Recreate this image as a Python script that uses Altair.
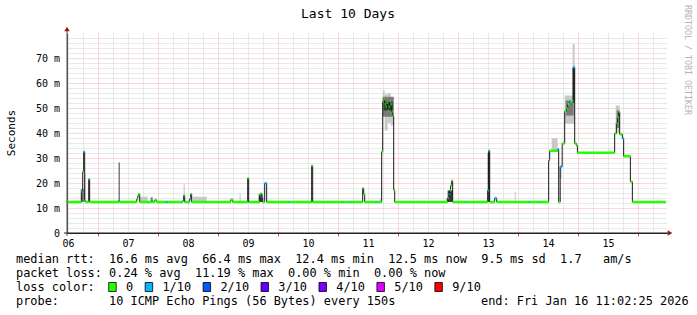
import altair as alt
import pandas as pd

NB = "\u00a0"
FONT = "DejaVu Sans Mono"

# ---------------- data ----------------
# time axis: day of month (January 2026, local time), values in milliseconds
med_day = [6.478, 6.728, 6.745, 6.761, 6.778, 6.795, 6.845, 6.861,
           7.345, 7.361, 7.645, 7.661, 7.678, 7.695, 7.895, 7.911, 7.945, 7.978,
           8.128, 8.161, 8.411, 8.428, 8.445, 8.528, 8.545, 8.561,
           9.211, 9.245, 9.495, 9.511, 9.528, 9.695, 9.711, 9.728, 9.745, 9.778, 9.811,
           10.178, 10.195, 10.561, 10.578,
           11.078, 11.095, 11.195, 11.211, 11.411, 11.428, 11.445, 11.628, 11.645,
           11.728, 11.745, 11.761, 11.778, 11.795, 11.811, 11.828, 11.845, 11.861, 11.878, 11.895, 11.911, 11.928, 11.945,
           12.828, 12.845, 12.861, 12.878, 12.895, 12.911,
           13.128, 13.145, 13.495, 13.511, 13.528, 13.611, 13.645,
           14.178, 14.195, 14.345, 14.361, 14.511, 14.528, 14.661, 14.678, 14.703, 14.736, 14.778, 14.806, 14.828, 14.861, 14.886, 14.92, 14.945, 14.973, 14.99,
           15.611, 15.639, 15.656, 15.678, 15.695, 15.74, 15.761, 15.873, 15.906]
med_ms = [12.4, 16.5, 24.5, 32.5, 13.0, 12.4, 21.5, 12.4,
          12.9, 12.4, 13.5, 14.8, 15.6, 12.4, 12.9, 12.4, 13.2, 12.4,
          12.4, 12.4, 12.9, 15.0, 12.4, 13.6, 15.6, 12.4,
          13.3, 12.4, 21.9, 12.4, 12.4, 15.2, 15.8, 14.5, 12.4, 19.9, 12.4,
          12.4, 12.4, 26.9, 12.4,
          12.4, 12.4, 12.4, 12.4, 17.9, 15.5, 12.4, 12.4, 12.4,
          32.5, 52.7, 53.5, 51.5, 50.5, 52.0, 49.1, 50.5, 52.5, 51.5, 48.5, 47.0, 17.2, 12.4,
          14.0, 15.4, 17.0, 19.0, 20.9, 12.4,
          12.4, 12.4, 17.0, 32.9, 12.4, 13.9, 12.4,
          12.4, 12.4, 12.4, 12.4, 29.0, 32.9, 33.5, 12.4, 26.5, 35.8, 48.6, 49.9, 51.5, 52.4, 52.8, 66.3, 35.8, 35.0, 32.1,
          39.8, 44.0, 46.4, 48.4, 39.5, 37.8, 30.7, 20.5, 12.4]
med_loss = ["0", "1/10", "0", "1/10", "0", "0", "1/10", "0",
            "1/10", "0", "0", "0", "0", "0", "1/10", "0", "0", "0",
            "1/10", "0", "1/10", "0", "0", "1/10", "0", "0",
            "0", "0", "0", "1/10", "0", "0", "0", "1/10", "0", "1/10", "0",
            "1/10", "0", "0", "0",
            "1/10", "0", "1/10", "0", "0", "0", "0", "1/10", "0",
            "0", "0", "0", "0", "0", "0", "0", "0", "0", "0", "0", "0", "0", "0",
            "0", "1/10", "0", "0", "0", "0",
            "1/10", "0", "1/10", "1/10", "0", "1/10", "0",
            "1/10", "0", "1/10", "0", "0", "0", "1/10", "0", "1/10", "0", "0", "0", "0", "1/10", "0", "1/10", "0", "0", "0",
            "0", "0", "0", "0", "0", "1/10", "0", "0", "0"]
END_DAY = 16.461

smoke_day0 = [6.711, 6.778, 7.345, 7.695, 7.878, 8.428, 8.578, 9.361, 9.678, 11.695,
              11.745, 11.778, 11.828, 11.878, 11.745, 11.761, 12.795, 12.828, 13.495, 13.945,
              14.561, 14.695, 14.778, 14.795, 14.911, 14.911, 15.628, 15.645]
smoke_day1 = [6.778, 6.795, 7.361, 7.828, 7.911, 8.445, 8.811, 9.378, 9.745, 11.728,
              11.778, 11.828, 11.878, 11.928, 11.928, 11.911, 12.828, 12.911, 13.528, 13.961,
              14.661, 14.728, 14.945, 14.928, 14.945, 14.945, 15.695, 15.695]
smoke_lo = [12.4, 12.4, 12.4, 12.4, 12.4, 12.4, 12.4, 12.4, 12.4, 12.4,
            47.0, 41.0, 44.0, 43.0, 46.5, 49.0, 12.4, 12.4, 12.4, 12.4,
            32.9, 22.0, 43.7, 47.0, 52.0, 52.0, 40.0, 42.0]
smoke_hi = [17.5, 24.0, 28.2, 14.5, 14.3, 19.9, 14.5, 15.9, 15.5, 13.6,
            57.0, 55.5, 56.0, 54.0, 54.5, 52.5, 14.0, 17.0, 32.0, 16.5,
            37.9, 27.0, 55.0, 53.0, 75.6, 66.0, 51.0, 49.0]
smoke_shade = ["mid", "light", "dark", "light", "mid", "light", "light", "light", "dark", "light",
               "light", "light", "light", "light", "mid", "dark", "light", "dark", "dark", "light",
               "light", "light", "light", "mid", "light", "dark", "light", "mid"]

loss_labels = ["0", "1/10", "2/10", "3/10", "4/10", "5/10", "9/10"]
loss_colors = ["#26ff00", "#00b8ff", "#0059ff", "#5e00ff", "#7e00ff", "#dd00ff", "#ff0000"]

title_text = "Last 10 Days"
y_title = "Seconds"
credit = "RRDTOOL / TOBI OETIKER"
rtt_stats = ["16.6 ms avg", "66.4 ms max", "12.4 ms min", "12.5 ms now", "9.5 ms sd", "1.7   am/s"]
loss_stats = ["0.24 % avg", "11.19 % max", "0.00 % min", "0.00 % now"]
probe_text = "10 ICMP Echo Pings (56 Bytes) every 150s"
end_text = "end: Fri Jan 16 11:02:25 2026"

# ---------------- tables ----------------
med = pd.DataFrame({"t": med_day, "v": med_ms, "loss": med_loss})
med["t_end"] = med["t"].shift(-1).fillna(END_DAY)
step = pd.concat([med[["t", "v"]], pd.DataFrame({"t": [END_DAY], "v": [med_ms[-1]]})], ignore_index=True)
smoke = pd.DataFrame({"t0": smoke_day0, "t1": smoke_day1, "lo": smoke_lo, "hi": smoke_hi, "shade": smoke_shade})

# ---------------- scales & axes ----------------
X0 = 6.0 + 11.6 / 24.0
X1 = X0 + 10.0
YMAX = 80.0
xs = alt.Scale(domain=[X0, X1], nice=False, zero=False)
ys = alt.Scale(domain=[0, YMAX], nice=False, zero=True)

RED_GRID = "#f2b0b0"
GRAY_GRID = "#d2d2d2"

x_axis = alt.Axis(
    title=None,
    values=[6.5 + 0.25 * k for k in range(40)],
    grid=True,
    gridColor={"condition": {"test": "datum.value % 1 === 0", "value": RED_GRID}, "value": GRAY_GRID},
    gridDash=[1, 1],
    tickColor={"condition": {"test": "datum.value % 1 === 0", "value": "#e05050"}, "value": "transparent"},
    tickSize=3,
    domainColor="#222222",
    labelExpr="datum.value % 1 === 0.5 ? ((floor(datum.value) < 10 ? '0' : '') + floor(datum.value)) : ''",
    labelFont=FONT, labelFontSize=10, labelColor="#000000",
    labelPadding=2, labelOverlap=False, labelFlush=False,
    zindex=0,
)
y_axis = alt.Axis(
    title=None,
    values=list(range(0, 80, 2)),
    grid=True,
    gridColor={"condition": {"test": "datum.value % 10 === 0", "value": RED_GRID}, "value": GRAY_GRID},
    gridDash=[1, 1],
    tickColor="transparent",
    tickSize=3,
    domainColor="#555555",
    labelExpr="datum.value % 10 !== 0 ? '' : (datum.value === 0 ? '0" + NB + NB + "' : datum.value + '" + NB + "m')",
    labelFont=FONT, labelFontSize=10, labelColor="#000000",
    labelPadding=4.5, labelOverlap=False,
    zindex=0,
)


def X(f):
    return alt.X(f"{f}:Q", scale=xs, axis=x_axis)


def Y(f):
    return alt.Y(f"{f}:Q", scale=ys, axis=y_axis)


shade_color = {"light": "#c8c8c8", "mid": "#7a7a7a", "dark": "#383838"}
layers = []
for sh in ["light", "mid", "dark"]:
    layers.append(
        alt.Chart(smoke).transform_filter(alt.datum.shade == sh)
        .mark_rect(color=shade_color[sh])
        .encode(x=X("t0"), x2="t1", y=Y("lo"), y2="hi")
    )

layers.append(
    alt.Chart(step).mark_line(interpolate="step-after", color="#1a1a1a", strokeWidth=1)
    .encode(x=X("t"), y=Y("v"))
)
layers.append(
    alt.Chart(med).mark_rule(strokeWidth=2.6, strokeCap="butt", opacity=1)
    .encode(x=X("t"), x2="t_end", y=Y("v"),
            color=alt.Color("loss:N", scale=alt.Scale(domain=loss_labels, range=loss_colors), legend=None))
)

one = pd.DataFrame({"a": [0]})
# axis extensions (crossing at the origin) and arrow heads
layers.append(alt.Chart(one).mark_rule(color="#555555").encode(x=alt.value(0), y=alt.value(-5), y2=alt.value(203)))
layers.append(alt.Chart(one).mark_rule(color="#222222").encode(x=alt.value(-3), x2=alt.value(603), y=alt.value(200)))
layers.append(alt.Chart(one).mark_point(shape="triangle-up", filled=True, size=30, color="#8b1a1a", opacity=1)
              .encode(x=alt.value(0), y=alt.value(-4)))
layers.append(alt.Chart(one).mark_point(shape="triangle-right", filled=True, size=30, color="#8b1a1a", opacity=1)
              .encode(x=alt.value(603), y=alt.value(200)))

OX, OY = 67, 33


def txt(s, x, y, size=11.9, color="#000000", align="left", angle=0, baseline="middle"):
    return (alt.Chart(pd.DataFrame({"s": [s.replace(" ", NB)]}))
            .mark_text(font=FONT, fontSize=size, color=color, align=align, baseline=baseline, angle=angle)
            .encode(text="s:N", x=alt.value(x - OX), y=alt.value(y - OY)))


layers.append(txt(title_text, 348, 13.5, size=13, align="center"))
layers.append(txt(y_title, 12, 133, size=11, align="center", angle=270))
layers.append(txt(credit, 687, 5, size=8.3, color="#b4b4b4", align="left", angle=90))

line1 = "median rtt:  " + "  ".join(rtt_stats)
line2 = "packet loss: " + "  ".join(loss_stats)
layers.append(txt(line1, 16, 259.3))
layers.append(txt(line2, 16, 273.3))
layers.append(txt("loss color:", 16, 286.7))
layers.append(txt("probe:       " + probe_text, 16, 301))
layers.append(txt(end_text, 481, 301))

# loss colour legend boxes
bx = 108.7
for lab, col in zip(loss_labels, loss_colors):
    layers.append(alt.Chart(one).mark_rect(fill=col, stroke="#000000", strokeWidth=0.8)
                  .encode(x=alt.value(bx - OX), x2=alt.value(bx + 7.5 - OX),
                          y=alt.value(282.5 - OY), y2=alt.value(291.5 - OY)))
    layers.append(txt(lab, bx + 17.3, 286.7))
    bx += 17.3 + len(lab) * 7.16 + 12

chart = (
    alt.layer(*layers)
    .properties(width=600, height=200,
                padding={"left": OX, "top": OY, "right": 30, "bottom": 82},
                autosize=alt.AutoSizeParams(type="none"),
                background="#ffffff")
    .configure_view(strokeWidth=0)
)

chart.save("out.html", embed_options={"renderer": "svg", "actions": False})
